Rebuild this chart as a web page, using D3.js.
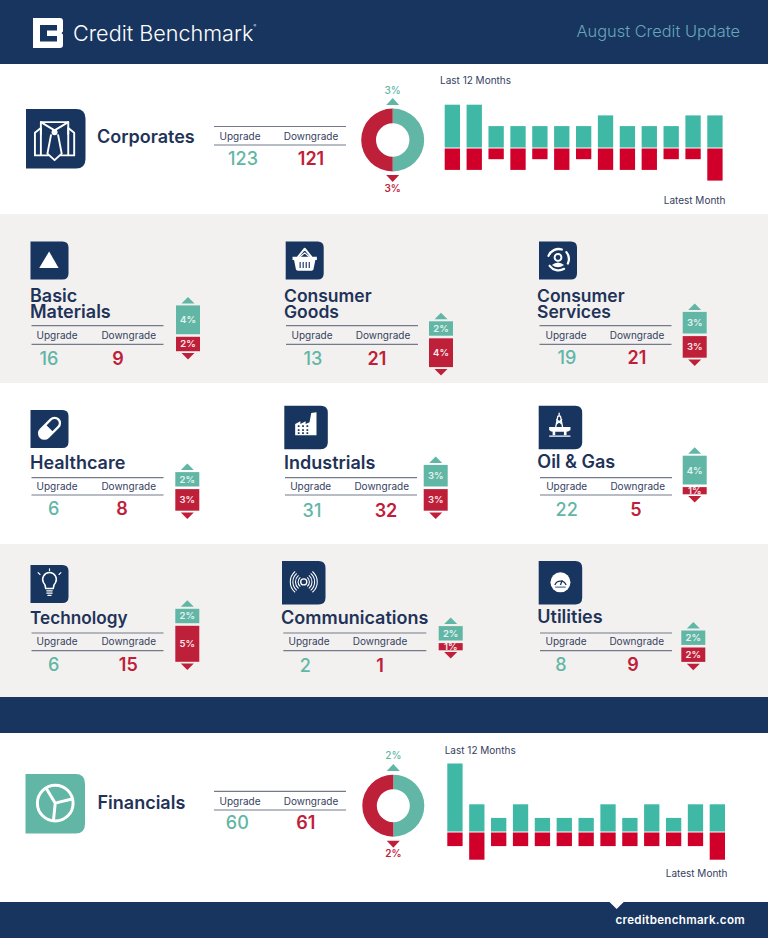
<!DOCTYPE html>
<html>
<head>
<meta charset="utf-8">
<script src="https://d3js.org/d3.v7.min.js"></script>
<style>
body { margin: 0; background: #fff; }
text { font-family: Inter, "Noto Sans", sans-serif; }
</style>
</head>
<body>
<script>
// ---- values ----
var sectorNames = [["Basic", "Materials"], ["Consumer", "Goods"], ["Consumer", "Services"],
                   ["Healthcare"], ["Industrials"], ["Oil & Gas"],
                   ["Technology"], ["Communications"], ["Utilities"]];
var sectorUpgrades = [16, 13, 19, 6, 31, 22, 6, 2, 8];
var sectorDowngrades = [9, 21, 21, 8, 32, 5, 15, 1, 9];
var sectorUpPct = [4, 2, 3, 2, 3, 4, 2, 2, 2];
var sectorDownPct = [2, 4, 3, 3, 3, 1, 5, 1, 2];

var corporateUpgrades = 123;
var corporateDowngrades = 121;
var corporatePct = [3, 3];
var corporateMonthsUp = [4, 4, 2, 2, 2, 2, 2, 3, 2, 2, 2, 3, 3];
var corporateMonthsDown = [2, 2, 1, 2, 1, 2, 1, 2, 2, 2, 1, 1, 3];

var financialUpgrades = 60;
var financialDowngrades = 61;
var financialPct = [2, 2];
var financialMonthsUp = [5, 2, 1, 2, 1, 1, 1, 2, 1, 2, 1, 2, 2];
var financialMonthsDown = [1, 2, 1, 1, 1, 1, 1, 1, 1, 1, 1, 1, 2];

// ---- colours ----
var navy = "#17355e";
var ink = "#1f3358";
var labelInk = "#35415f";
var teal = "#62b6a6";
var red = "#bf2039";
var barTeal = "#40b8a6";
var barRed = "#d0002a";
var band = "#f2f1f0";
var rule = "#737a8a";

// ---- where each sector block sits on the page ----
var sectorLayout = [
  {icon: [30.5, 241.5, 38], tx: 30, ty: 302, lx: 31.5, ly: [325.6, 344.3], ux: 57, dx: 128.7, nux: 49, ndx: 118, ny: 364.5, gx: 188, gy: 335.5},
  {icon: [285.7, 241.5, 38], tx: 284, ty: 302, fs: 17.5, lx: 286, ly: [325.6, 344.3], ux: 312, dx: 383, nux: 313, ndx: 377, ny: 364.5, gx: 441, gy: 337},
  {icon: [539, 241.5, 38], tx: 537, ty: 301.5, fs: 17.5, lx: 539.5, ly: [325.6, 344.3], ux: 566, dx: 637, nux: 567, ndx: 637, ny: 363.5, gx: 694.7, gy: 334.8},
  {icon: [30.5, 410, 38], tx: 30, ty: 469, lx: 31.5, ly: [477.7, 495], ux: 57, dx: 128.7, nux: 53.7, ndx: 122, ny: 515.3, gx: 187.3, gy: 487.8},
  {icon: [284.3, 405.7, 43.5], tx: 284, ty: 469, lx: 285, ly: [477.7, 495], ux: 310.7, dx: 381.7, nux: 312, ndx: 386, ny: 516.5, gx: 435.7, gy: 487.8},
  {icon: [538.7, 405.7, 43.5], tx: 537.3, ty: 468, lx: 540, ly: [477.7, 495], ux: 566.7, dx: 637.7, nux: 566.7, ndx: 636, ny: 515.7, gx: 694.7, gy: 485.8},
  {icon: [30.5, 565, 38], tx: 30, ty: 624.3, fs: 17.2, lx: 31.5, ly: [633, 650.7], ux: 57, dx: 128.7, nux: 53.7, ndx: 128.3, ny: 670.7, gx: 187.3, gy: 624.5},
  {icon: [282, 561, 43.5], tx: 281, ty: 624.3, lx: 283.3, ly: [633, 650.7], ux: 309, dx: 380, nux: 305.3, ndx: 380, ny: 671.7, gx: 450.7, gy: 641.8, lw: 143},
  {icon: [538.7, 561, 43.5], tx: 537.3, ty: 623, lx: 540, ly: [633, 650.7], ux: 566, dx: 636.7, nux: 561, ndx: 633, ny: 670.7, gx: 693.3, gy: 646.2}
];

var svg = d3.select("body").append("svg")
  .attr("width", 768)
  .attr("height", 938)
  .style("display", "block");

// page bands
var bands = [[0, 64, navy], [64, 150, "#fff"], [214, 169, band], [383, 161, "#fff"],
             [544, 153, band], [697, 36, navy], [733, 169, "#fff"], [902, 36, navy]];
svg.selectAll("rect.band").data(bands).enter().append("rect")
  .attr("class", "band")
  .attr("x", 0)
  .attr("y", function(d) { return d[0]; })
  .attr("width", 768)
  .attr("height", function(d) { return d[1]; })
  .attr("fill", function(d) { return d[2]; });

// header
svg.append("path")
  .attr("d", "M33 18H60Q63 18 63 21V31.5L61.5 33L63 34.5V45Q63 48 60 48H33Z")
  .attr("fill", "#fff");
svg.append("path")
  .attr("d", "M40 25H57V30.5H47V36H57V41.5H40Z")
  .attr("fill", navy);
svg.append("text").attr("x", 73).attr("y", 41)
  .attr("font-size", 21.6).attr("fill", "#fff").attr("font-weight", 300)
  .text("Credit Benchmark");
svg.append("text").attr("x", 253.5).attr("y", 27)
  .attr("font-size", 4).attr("fill", "#fff").text("®");
svg.append("text").attr("x", 740).attr("y", 36.5)
  .attr("text-anchor", "end").attr("font-size", 16.4).attr("font-weight", 300).attr("fill", "#68a6bc")
  .text("August Credit Update");

// footer
svg.append("path").attr("d", "M609.5 902H623.7L616.6 909Z").attr("fill", "#fff");
svg.append("text").attr("x", 745).attr("y", 923.5)
  .attr("text-anchor", "end").attr("font-size", 11.6).attr("font-weight", 600)
  .attr("letter-spacing", 0.3).attr("fill", "#fff")
  .text("creditbenchmark.com");

// the tile behind every icon, 100 units wide
function tile(x, y, size, colour) {
  var g = svg.append("g").attr("transform", "translate(" + x + "," + y + ") scale(" + (size / 100) + ")");
  g.append("path")
    .attr("d", "M0 0H84Q100 0 100 16V84Q100 100 84 100H0Z")
    .attr("fill", colour);
  return g;
}

function whiteLine(g, d, w) {
  return g.append("path").attr("d", d).attr("fill", "none")
    .attr("stroke", "#fff").attr("stroke-width", w).attr("stroke-linejoin", "round").attr("stroke-linecap", "round");
}

function whiteFill(g, d) {
  return g.append("path").attr("d", d).attr("fill", "#fff");
}

var iconDrawers = [
  function(g) { whiteFill(g, "M23 70H74L49 26Z"); },
  function(g) { // basket
    whiteLine(g, "M33 40L50 19L67 40", 5);
    whiteLine(g, "M38 40L50 30L62 40", 3);
    whiteFill(g, "M18 40H82V49H78L73 74Q72 77 68 77H32Q28 77 27 74L22 49H18Z");
    [38, 46, 54, 62].forEach(function(x) { g.append("path").attr("d", "M" + x + " 54V70").attr("stroke", navy).attr("stroke-width", 3); });
  },
  function(g) { // person in a ring of arrows
    whiteLine(g, "M25 38A29 29 0 0 1 60 21", 6);
    whiteLine(g, "M72 28A29 29 0 0 1 76 58", 6);
    whiteLine(g, "M66 72A29 29 0 0 1 28 64", 6);
    g.append("circle").attr("cx", 50).attr("cy", 42).attr("r", 9).attr("fill", "none").attr("stroke", "#fff").attr("stroke-width", 5);
    whiteFill(g, "M34 62Q50 48 66 62Q50 74 34 62Z");
  },
  function(g) { // pill
    var p = g.append("g").attr("transform", "rotate(-45 50 48)");
    p.append("rect").attr("x", 17).attr("y", 34).attr("width", 66).attr("height", 28).attr("rx", 14)
      .attr("fill", "none").attr("stroke", "#fff").attr("stroke-width", 6);
    p.append("path").attr("d", "M31 34H50V62H31A14 14 0 0 1 31 34Z").attr("fill", "#fff");
  },
  function(g) { // factory
    whiteFill(g, "M25 42L37 36V42L49 36V42L58 38L62 17L74 15V68H25Z");
    [33, 43, 53].forEach(function(x) {
      [47, 56, 63].forEach(function(y) {
        g.append("rect").attr("x", x - 2).attr("y", y - 2).attr("width", 4).attr("height", 4).attr("fill", navy);
      });
    });
  },
  function(g) { // oil rig
    whiteLine(g, "M47 17V24M39 50L44 24H50L55 50M41 42L53 32M53 42L41 32", 3);
    whiteFill(g, "M24 49H73V56Q69 60 64 60V68H58V60H38V68H32V60Q27 60 24 56Z");
    whiteLine(g, "M25 70H72", 2.5);
  },
  function(g) { // light bulb
    whiteLine(g, "M40 62Q40 52 34 46A18 18 0 1 1 66 46Q60 52 60 62Z", 4);
    whiteLine(g, "M43 68H57M43 74H57M46 80H54", 3.5);
    whiteLine(g, "M50 10V15M20 20L25 25M80 20L75 25", 3);
  },
  function(g) { // signal waves
    g.append("circle").attr("cx", 50).attr("cy", 48).attr("r", 7).attr("fill", "none").attr("stroke", "#fff").attr("stroke-width", 3);
    [13, 19, 25, 31].forEach(function(r) {
      var s = 0.75 * r, c = 0.66 * r;
      whiteLine(g, "M" + (50 - c) + " " + (48 - s) + "A" + r + " " + r + " 0 0 0 " + (50 - c) + " " + (48 + s), 2.4);
      whiteLine(g, "M" + (50 + c) + " " + (48 - s) + "A" + r + " " + r + " 0 0 1 " + (50 + c) + " " + (48 + s), 2.4);
    });
  },
  function(g) { // gauge
    g.append("circle").attr("cx", 50).attr("cy", 49).attr("r", 23).attr("fill", "#fff");
    g.append("path").attr("d", "M37 55A14 14 0 0 1 63 55").attr("fill", "none").attr("stroke", navy).attr("stroke-width", 3);
    g.append("path").attr("d", "M50 55L54 44").attr("stroke", navy).attr("stroke-width", 3);
    g.append("path").attr("d", "M38 60H62").attr("stroke", navy).attr("stroke-width", 2);
  }
];

// heading rules, column labels and counts
function stats(x, width, lineYs, upX, downX, numUpX, numDownX, numY, upValue, downValue, labelY, numSize) {
  lineYs.forEach(function(y) {
    svg.append("line").attr("x1", x).attr("x2", x + width).attr("y1", y).attr("y2", y)
      .attr("stroke", rule).attr("stroke-width", 1.2);
  });
  [["Upgrade", upX], ["Downgrade", downX]].forEach(function(d) {
    svg.append("text").attr("x", d[1]).attr("y", labelY).attr("text-anchor", "middle")
      .attr("font-size", 10).attr("fill", labelInk).text(d[0]);
  });
  svg.append("text").attr("x", numUpX).attr("y", numY).attr("text-anchor", "middle")
    .attr("font-size", numSize).attr("font-weight", 500).attr("fill", teal).text(upValue);
  svg.append("text").attr("x", numDownX).attr("y", numY).attr("text-anchor", "middle")
    .attr("font-size", numSize).attr("font-weight", 600).attr("fill", red).text(downValue);
}

function triangle(cx, y, w, h, up, colour) {
  var d = up
    ? "M" + (cx - w / 2) + " " + (y + h) + "H" + (cx + w / 2) + "L" + cx + " " + y + "Z"
    : "M" + (cx - w / 2) + " " + y + "H" + (cx + w / 2) + "L" + cx + " " + (y + h) + "Z";
  svg.append("path").attr("d", d).attr("fill", colour);
}

// sector blocks
var gaugeHeight = d3.scaleLinear().domain([0, 5]).range([0, 36]);
var gaugeW = 24;
var gaugeGap = 1.3;

sectorNames.forEach(function(name, i) {
  var p = sectorLayout[i];
  var g = tile(p.icon[0], p.icon[1], p.icon[2], navy);
  iconDrawers[i](g);

  svg.selectAll("text.t" + i).data(name).enter().append("text")
    .attr("class", "t" + i)
    .attr("x", p.tx)
    .attr("y", function(d, j) { return p.ty + j * 16; })
    .attr("font-size", p.fs || 18).attr("font-weight", 600).attr("fill", ink)
    .text(function(d) { return d; });

  stats(p.lx, p.lw || 132, p.ly, p.ux, p.dx, p.nux, p.ndx, p.ny,
        sectorUpgrades[i], sectorDowngrades[i], (p.ly[0] + p.ly[1]) / 2 + 3.6, 18);

  var upH = gaugeHeight(sectorUpPct[i]);
  var downH = gaugeHeight(sectorDownPct[i]);
  var upTop = p.gy - gaugeGap - upH;
  var downTop = p.gy + gaugeGap;
  svg.append("rect").attr("x", p.gx - gaugeW / 2).attr("y", upTop).attr("width", gaugeW).attr("height", upH).attr("fill", teal);
  svg.append("rect").attr("x", p.gx - gaugeW / 2).attr("y", downTop).attr("width", gaugeW).attr("height", downH).attr("fill", red);
  triangle(p.gx, upTop - 8.5, 13, 6.5, true, teal);
  triangle(p.gx, downTop + downH + 1.8, 13, 6.5, false, red);
  svg.append("text").attr("x", p.gx).attr("y", upTop + upH / 2 + 3.4).attr("text-anchor", "middle")
    .attr("font-size", 9.5).attr("font-weight", 600).attr("fill", "#e4f3ef").text(sectorUpPct[i] + "%");
  svg.append("text").attr("x", p.gx).attr("y", downTop + downH / 2 + 3.4).attr("text-anchor", "middle")
    .attr("font-size", 9.5).attr("font-weight", 600).attr("fill", "#fbe9ec").text(sectorDownPct[i] + "%");
});

// the two wide panels: title, counts, donut and 13 months of bars
function panel(o) {
  var g = tile(o.icon[0], o.icon[1], o.icon[2], o.iconColour);
  o.drawIcon(g);

  svg.append("text").attr("x", o.titleX).attr("y", o.titleY)
    .attr("font-size", 18).attr("font-weight", 600).attr("fill", ink).text(o.title);

  stats(214, 132, o.lineYs, 240, 311, o.numUpX, o.numDownX, o.numY, o.up, o.down, o.labelY, 18);

  // donut
  var pie = d3.pie().sort(null).startAngle(0).endAngle(2 * Math.PI);
  var arc = d3.arc().innerRadius(o.inner).outerRadius(o.outer);
  var colours = [teal, red];
  svg.append("g").attr("transform", "translate(" + o.cx + "," + o.cy + ")")
    .selectAll("path").data(pie(o.pct)).enter().append("path")
    .attr("d", arc)
    .attr("fill", function(d, i) { return colours[i]; });

  triangle(o.cx, o.triUp, 13, 7, true, teal);
  triangle(o.cx, o.triDown, 13, 7, false, red);
  svg.append("text").attr("x", o.cx).attr("y", o.pctUpY).attr("text-anchor", "middle")
    .attr("font-size", 10).attr("font-weight", 500).attr("fill", teal).text(o.pct[0] + "%");
  svg.append("text").attr("x", o.cx).attr("y", o.pctDownY).attr("text-anchor", "middle")
    .attr("font-size", 10).attr("font-weight", 600).attr("fill", red).text(o.pct[1] + "%");

  // bars
  var x = d3.scaleBand().domain(d3.range(o.monthsUp.length)).range(o.barRange).paddingInner(0.3);
  var h = d3.scaleLinear().domain([0, 1]).range([0, o.unit]);

  svg.selectAll("rect.up" + o.key).data(o.monthsUp).enter().append("rect")
    .attr("class", "up" + o.key)
    .attr("x", function(d, i) { return x(i); })
    .attr("y", function(d) { return o.base - h(d); })
    .attr("width", x.bandwidth())
    .attr("height", function(d) { return h(d); })
    .attr("fill", barTeal);

  svg.selectAll("rect.down" + o.key).data(o.monthsDown).enter().append("rect")
    .attr("class", "down" + o.key)
    .attr("x", function(d, i) { return x(i); })
    .attr("y", o.base + 1)
    .attr("width", x.bandwidth())
    .attr("height", function(d) { return h(d); })
    .attr("fill", barRed);

  svg.append("text").attr("x", o.lastX).attr("y", o.lastY)
    .attr("font-size", 10).attr("fill", labelInk).text("Last 12 Months");
  svg.append("text").attr("x", o.latestX).attr("y", o.latestY).attr("text-anchor", "end")
    .attr("font-size", 10).attr("fill", labelInk).text("Latest Month");
}

panel({
  key: "corp", title: "Corporates", up: corporateUpgrades, down: corporateDowngrades, pct: corporatePct,
  monthsUp: corporateMonthsUp, monthsDown: corporateMonthsDown,
  icon: [26, 109, 59.5], iconColour: navy,
  drawIcon: function(g) { // shirt and tie
    whiteLine(g, "M25 42V22H71V42", 3.2);
    whiteLine(g, "M15 40L25 32V78H37M81 40L71 32V78H59M15 40V78H25M81 40V78H71", 3.2);
    whiteLine(g, "M25 22L48 36L71 22", 3.2);
    whiteLine(g, "M42 44L36 75L48 86L60 75L54 44", 3.2);
    g.append("circle").attr("cx", 48).attr("cy", 39).attr("r", 5).attr("fill", "#fff");
  },
  titleX: 97, titleY: 143, lineYs: [126.5, 145], labelY: 139.7,
  numUpX: 243, numDownX: 311, numY: 164.5,
  cx: 392.7, cy: 140, outer: 31.5, inner: 16.7,
  triUp: 98, triDown: 175, pctUpY: 93.5, pctDownY: 192,
  barRange: [444.7, 722.6], base: 147.5, unit: 10.7,
  lastX: 440, lastY: 83.5, latestX: 725.5, latestY: 204
});

panel({
  key: "fin", title: "Financials", up: financialUpgrades, down: financialDowngrades, pct: financialPct,
  monthsUp: financialMonthsUp, monthsDown: financialMonthsDown,
  icon: [25.5, 774, 59.5], iconColour: teal,
  drawIcon: function(g) { // pie wheel
    g.append("circle").attr("cx", 50).attr("cy", 49).attr("r", 30).attr("fill", "none").attr("stroke", "#fff").attr("stroke-width", 5);
    whiteLine(g, "M50 49L36 26M50 49L78 42M50 49L47 78", 5);
  },
  titleX: 97.5, titleY: 808.7, lineYs: [791.3, 810], labelY: 804.8,
  numUpX: 237.3, numDownX: 305.7, numY: 829.3,
  cx: 393.3, cy: 805.7, outer: 31, inner: 16.5,
  triUp: 764, triDown: 840.7, pctUpY: 759.3, pctDownY: 857,
  barRange: [447.3, 725], base: 831.5, unit: 13.6,
  lastX: 444.7, lastY: 754, latestX: 727.5, latestY: 876.7
});
</script>
</body>
</html>
